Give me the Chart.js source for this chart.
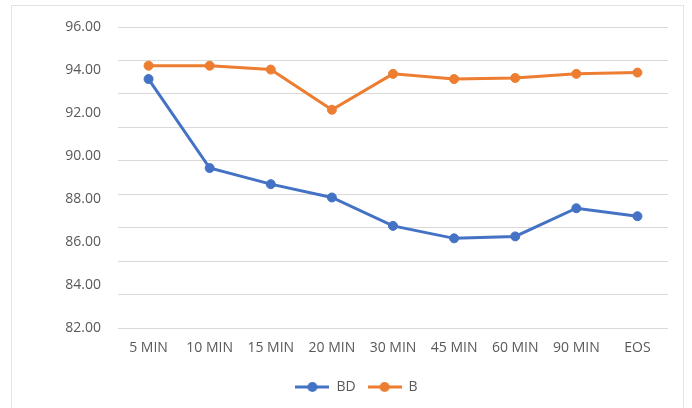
<!DOCTYPE html>
<html>
<head>
<meta charset="utf-8">
<script src="https://cdn.jsdelivr.net/npm/chart.js@4"></script>
<style>
  html, body { margin: 0; padding: 0; background: #ffffff; }
  #wrap { position: relative; width: 692px; height: 408px; overflow: hidden; background: #ffffff; }
  #frame { position: absolute; left: 11px; top: 5px; width: 671px; height: 430px; border: 1.5px solid #e3e3e3; }
  #c { position: absolute; left: 0; top: 0; }
</style>
</head>
<body>
<div id="wrap">
  <div id="frame"></div>
  <canvas id="c" width="692" height="408"></canvas>
</div>
<script>
// Sampling times
const categories = ['5 MIN', '10 MIN', '15 MIN', '20 MIN', '30 MIN', '45 MIN', '60 MIN', '90 MIN', 'EOS'];

// Series values
const bdValues = [93.58, 89.44, 88.69, 88.07, 86.75, 86.17, 86.26, 87.57, 87.20];
const bValues  = [94.20, 94.20, 94.02, 92.15, 93.82, 93.58, 93.63, 93.82, 93.88];

// Value axis labels
const yTickLabels = [82, 84, 86, 88, 90, 92, 94, 96];
const yMin = 82;
const yMax = 96;
const gridLineCount = 10;

const BLUE = '#4472C4';
const ORANGE = '#ED7D31';
const TEXT = '#595959';
const FONT = { family: '"Open Sans", "Liberation Sans", sans-serif', size: 14 };

// Legend swatch: short line with a round marker in the middle
function makeLegendIcon(color) {
  const cv = document.createElement('canvas');
  cv.width = 34; cv.height = 12;
  const g = cv.getContext('2d');
  g.strokeStyle = color;
  g.lineWidth = 3;
  g.beginPath(); g.moveTo(0, 6); g.lineTo(34, 6); g.stroke();
  g.fillStyle = color;
  g.beginPath(); g.arc(17, 6, 5, 0, Math.PI * 2); g.fill();
  return cv;
}
const legendIcons = [makeLegendIcon(BLUE), makeLegendIcon(ORANGE)];

new Chart(document.getElementById('c'), {
  type: 'line',
  data: {
    labels: categories,
    datasets: [
      {
        label: 'BD', data: bdValues, yAxisID: 'y',
        borderColor: BLUE, backgroundColor: BLUE,
        borderWidth: 3, pointRadius: 4.5, pointBorderWidth: 1,
        pointBackgroundColor: BLUE, pointBorderColor: BLUE, tension: 0
      },
      {
        label: 'B', data: bValues, yAxisID: 'y',
        borderColor: ORANGE, backgroundColor: ORANGE,
        borderWidth: 3, pointRadius: 4.5, pointBorderWidth: 1,
        pointBackgroundColor: ORANGE, pointBorderColor: ORANGE, tension: 0
      }
    ]
  },
  options: {
    responsive: false,
    animation: false,
    layout: { padding: { left: 45, right: 24, top: 27, bottom: 4 } },
    plugins: {
      tooltip: { enabled: false },
      legend: {
        position: 'bottom',
        labels: {
          color: TEXT,
          font: FONT,
          usePointStyle: true,
          pointStyleWidth: 34,
          padding: 12,
          generateLabels(chart) {
            const items = Chart.defaults.plugins.legend.labels.generateLabels(chart);
            items.forEach((it, i) => { it.pointStyle = legendIcons[i]; });
            return items;
          }
        }
      }
    },
    scales: {
      x: {
        offset: true,
        grid: { display: false },
        border: { display: false },
        ticks: { color: TEXT, font: FONT, padding: 4, maxRotation: 0, autoSkip: false },
        afterFit(scale) { scale.height = 40; }
      },
      yGrid: {
        type: 'linear',
        position: 'left',
        min: yMin, max: yMax,
        afterBuildTicks(axis) {
          const step = (yMax - yMin) / (gridLineCount - 1);
          axis.ticks = Array.from({ length: gridLineCount }, (_, i) => ({ value: yMin + i * step }));
        },
        ticks: { display: false },
        grid: { color: '#d9d9d9', lineWidth: 1, drawTicks: false },
        border: { display: false },
        afterFit(scale) { scale.width = 0; }
      },
      y: {
        type: 'linear',
        position: 'left',
        min: yMin, max: yMax,
        afterBuildTicks(axis) {
          axis.ticks = yTickLabels.map(v => ({ value: v }));
        },
        ticks: {
          color: TEXT, font: FONT, padding: 17,
          callback: v => Number(v).toFixed(2)
        },
        grid: { display: false, drawTicks: false },
        border: { display: false },
        afterFit(scale) { scale.width = 118 - 45; }
      }
    }
  }
});
</script>
</body>
</html>
